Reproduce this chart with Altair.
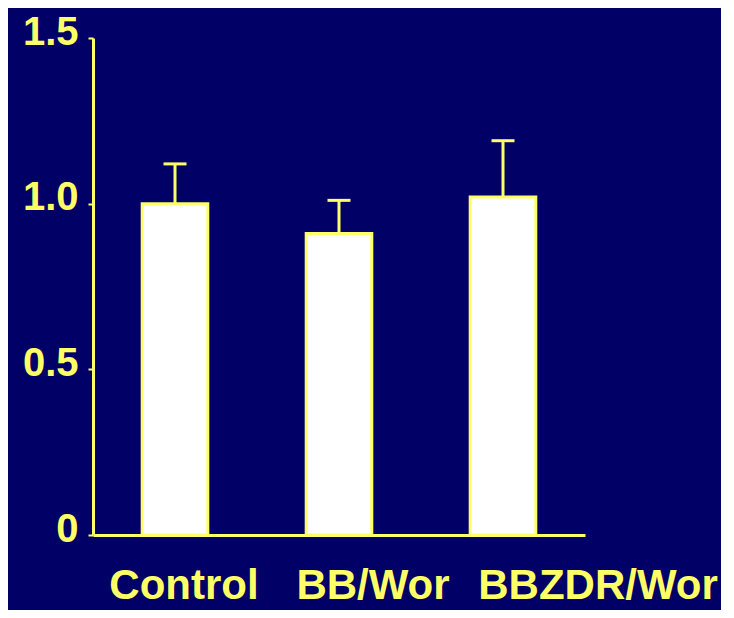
import altair as alt
import pandas as pd

categories = ["Control", "BB/Wor", "BBZDR/Wor"]
means = [1.0, 0.91, 1.02]
upper = [1.12, 1.01, 1.19]
label_dx = [9, 34, 95]

BG = "#000066"
YEL = "#FFFF66"
FONT = "Liberation Sans"

df = pd.DataFrame({"cat": categories, "mean": means, "upper": upper, "dx": label_dx})

x = alt.X(
    "cat:N",
    sort=categories,
    scale=alt.Scale(paddingInner=0.6, paddingOuter=0.3),
    axis=alt.Axis(labels=False, ticks=False, title=None, domainColor=YEL, domainWidth=3),
)
y_axis = alt.Axis(
    values=[0, 0.5, 1.0, 1.5],
    labelExpr="datum.value == 0 ? '0' : format(datum.value, '.1f')",
    grid=False,
    title=None,
    tickColor=YEL,
    tickSize=5,
    tickWidth=2,
    labelColor=YEL,
    labelFont=FONT,
    labelFontSize=40,
    labelFontWeight="bold",
    labelPadding=10,
    labelOffset=-6,
    domainColor=YEL,
    domainWidth=3,
)
yscale = alt.Scale(domain=[0, 1.5], nice=False)

base = alt.Chart(df)

bars = base.mark_bar(color="white", stroke=YEL, strokeWidth=3).encode(
    x=x,
    y=alt.Y("mean:Q", scale=yscale, axis=y_axis),
)
rule = base.mark_rule(color=YEL, strokeWidth=3).encode(x=x, y="mean:Q", y2="upper:Q")
cap = base.mark_tick(color=YEL, size=23, thickness=3, opacity=1, orient="horizontal").encode(
    x=x, y="upper:Q"
)

texts = []
for c, d in zip(categories, label_dx):
    texts.append(
        base.transform_filter(alt.datum.cat == c)
        .mark_text(
            color=YEL, font=FONT, fontSize=42, fontWeight="bold",
            baseline="alphabetic", align="center", dx=d,
        )
        .encode(x=x, y=alt.value(561), text="cat:N")
    )

chart = (
    alt.layer(bars, rule, cap, *texts)
    .properties(
        width=492,
        height=497,
        background=BG,
        autosize=alt.AutoSizeParams(type="none"),
        padding={"left": 85, "top": 30, "right": 136, "bottom": 75},
    )
    .configure_view(stroke=None)
)

chart.save("out.html", embed_options={"renderer": "svg", "actions": False})
